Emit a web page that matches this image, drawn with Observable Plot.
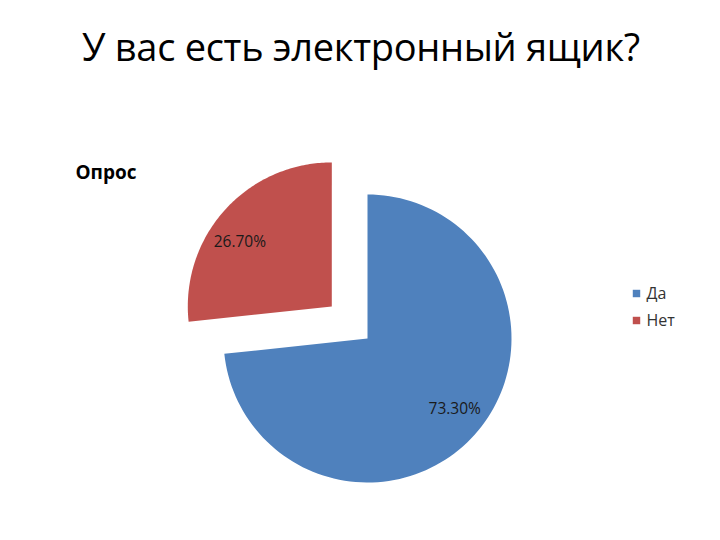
<!DOCTYPE html>
<html>
<head>
<meta charset="utf-8">
<script src="https://cdn.jsdelivr.net/npm/d3@7"></script>
<script src="https://cdn.jsdelivr.net/npm/@observablehq/plot@0.6"></script>
<style>
  html, body { margin: 0; padding: 0; background: #fff; }
  #wrap { width: 720px; height: 540px; position: relative; overflow: hidden; }
  #title { height: 90px; font-family: "Open Sans", sans-serif; font-size: 38px; color: #000;
           text-align: center; line-height: 92px; letter-spacing: -0.3px; padding-left: 2px; box-sizing: border-box; white-space: nowrap; }
</style>
</head>
<body>
<div id="wrap">
  <div id="title"></div>
  <div id="chart"></div>
</div>
<script>
const titleText = "У вас есть электронный ящик?";
const seriesName = "Опрос";
const categories = ["Да", "Нет"];
const values = [73.3, 26.7];
const labels = ["73.30%", "26.70%"];
const colors = ["#4F81BD", "#C0504D"];

document.getElementById("title").textContent = titleText;

const W = 720, H = 450;
const cx = 367, cy = 248, R = 144;
const explode = 48; // offset for the "Нет" slice
const explodeIdx = [false, true];

const pie = d3.pie().sort(null).value(d => d.value);
const arcs = pie(categories.map((c, i) => ({cat: c, value: values[i], label: labels[i], exp: explodeIdx[i]})));

const pts = [];
const labelPts = [];
arcs.forEach(a => {
  const mid = (a.startAngle + a.endAngle) / 2;
  const ox = a.data.exp ? explode * Math.sin(mid) : 0;
  const oy = a.data.exp ? -explode * Math.cos(mid) : 0;
  const x0 = cx + ox, y0 = cy + oy;
  pts.push({cat: a.data.cat, x: x0, y: y0});
  const n = 120;
  for (let k = 0; k <= n; k++) {
    const t = a.startAngle + (a.endAngle - a.startAngle) * k / n;
    pts.push({cat: a.data.cat, x: x0 + R * Math.sin(t), y: y0 - R * Math.cos(t)});
  }
  pts.push({cat: a.data.cat, x: x0, y: y0});
  const lm = a.data.exp ? mid - 0.12 : mid - 0.05;
  labelPts.push({label: a.data.label, x: x0 + 0.78 * R * Math.sin(lm), y: y0 - 0.78 * R * Math.cos(lm)});
});

const legend = categories.map((c, i) => ({cat: c, x: 636, y: 203 + i * 27}));

const chart = Plot.plot({
  width: W, height: H,
  margin: 0,
  x: {domain: [0, W], range: [0, W], axis: null},
  y: {domain: [0, H], range: [0, H], axis: null},
  color: {domain: categories, range: colors},
  style: {fontFamily: "'Open Sans', sans-serif", background: "#fff"},
  marks: [
    Plot.line(pts, {x: "x", y: "y", z: "cat", fill: "cat", stroke: null, curve: "linear"}),
    Plot.text(labelPts, {x: "x", y: "y", text: "label", fontSize: 15.5, fill: "#1a1a1a", letterSpacing: "-0.3px"}),
    Plot.text([seriesName], {x: () => 75, y: () => 82, text: d => d, textAnchor: "start", fontSize: 19, fontWeight: "bold", fill: "#000"}),
    Plot.dot(legend, {x: "x", y: "y", fill: "cat", symbol: "square", r: 4.2, stroke: null}),
    Plot.text(legend, {x: d => d.x + 10, y: "y", text: "cat", textAnchor: "start", fontSize: 16, fill: "#333"})
  ]
});
document.getElementById("chart").appendChild(chart);
</script>
</body>
</html>
